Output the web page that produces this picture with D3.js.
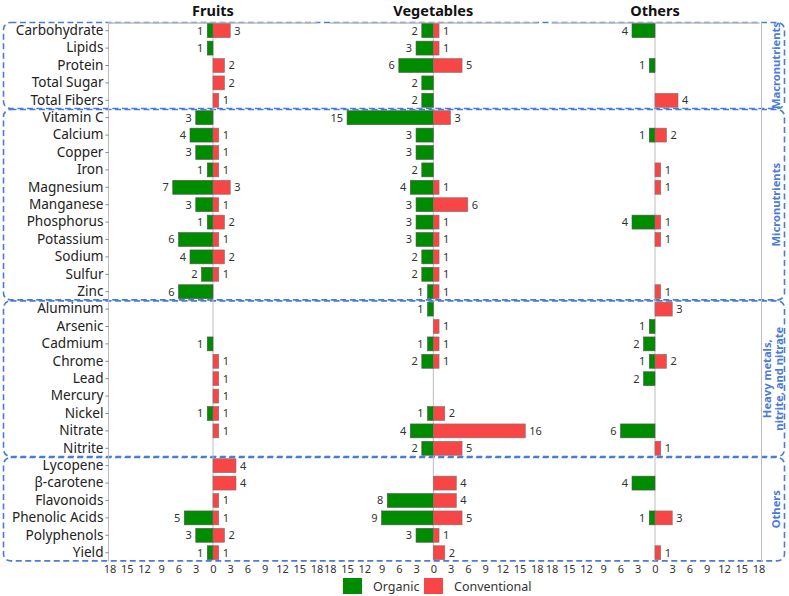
<!DOCTYPE html>
<html>
<head>
<meta charset="utf-8">
<script src="https://cdn.jsdelivr.net/npm/d3@7"></script>
<style>
  body { margin: 0; background: #fff; }
  svg { display: block; font-family: "Segoe UI", "Noto Sans", sans-serif; }
</style>
</head>
<body>
<svg id="chart" width="789" height="596"></svg>
<script>
// ---------- DATA ----------
const categories = [
  "Carbohydrate", "Lipids", "Protein", "Total Sugar", "Total Fibers",
  "Vitamin C", "Calcium", "Copper", "Iron", "Magnesium", "Manganese", "Phosphorus",
  "Potassium", "Sodium", "Sulfur", "Zinc",
  "Aluminum", "Arsenic", "Cadmium", "Chrome", "Lead", "Mercury", "Nickel", "Nitrate", "Nitrite",
  "Lycopene", "β-carotene", "Flavonoids", "Phenolic Acids", "Polyphenols", "Yield"
];
const panels = ["Fruits", "Vegetables", "Others"];

const fruitsOrganic      = [1,1,0,0,0, 3,4,3,1,7,3,1,6,4,2,6, 0,0,1,0,0,0,1,0,0, 0,0,0,5,3,1];
const fruitsConventional = [3,0,2,2,1, 0,1,1,1,3,1,2,1,2,1,0, 0,0,0,1,1,1,1,1,0, 4,4,1,1,2,1];
const vegOrganic         = [2,3,6,2,2, 15,3,3,2,4,3,3,3,2,2,1, 1,0,1,2,0,0,1,4,2, 0,0,8,9,3,0];
const vegConventional    = [1,1,5,0,0, 3,0,0,0,1,6,1,1,1,1,1, 0,1,1,1,0,0,2,16,5, 0,4,4,5,1,2];
const othersOrganic      = [4,0,1,0,0, 0,1,0,0,0,0,4,0,0,0,0, 0,1,2,1,2,0,0,6,0, 0,4,0,1,0,0];
const othersConventional = [0,0,0,0,4, 0,2,0,1,1,0,1,1,0,0,1, 3,0,0,2,0,0,0,0,1, 0,0,0,3,0,1];

const groups = [
  { name: ["Macronutrients"], first: "Carbohydrate", last: "Total Fibers" },
  { name: ["Micronutrients"], first: "Vitamin C", last: "Zinc" },
  { name: ["Heavy metals,", "nitrite, and nitrate"], first: "Aluminum", last: "Nitrite" },
  { name: ["Others"], first: "Lycopene", last: "Yield" }
];
const tickValues = [-18, -15, -12, -9, -6, -3, 0, 3, 6, 9, 12, 15, 18];
const seriesNames = ["Organic", "Conventional"];

const organicSeries = [fruitsOrganic, vegOrganic, othersOrganic];
const conventionalSeries = [fruitsConventional, vegConventional, othersConventional];

// ---------- LAYOUT ----------
const green = "#008c00", red = "#f84545";
const svg = d3.select("#chart");
const topY = 22, bottomY = 561.4;
const zeros = [213, 433.3, 655];
const half = 103.5;

const y = d3.scaleBand().domain(categories).range([topY, bottomY]).paddingInner(0.2).paddingOuter(0.1);
const yb = d3.scaleBand().domain(categories).range([topY, bottomY]);

const xs = zeros.map(z => d3.scaleLinear().domain([-18, 18]).range([z - half, z + half]));

// Group boxes
groups.forEach(g => {
  const y0 = yb(g.first), y1 = yb(g.last) + yb.bandwidth();
  svg.append("rect")
    .attr("x", 3.5).attr("y", y0 + 0.5)
    .attr("width", 781).attr("height", y1 - y0 - 1)
    .attr("rx", 7).attr("ry", 7)
    .attr("fill", "none").attr("stroke", "#4a7bd8")
    .attr("stroke-width", 1.6).attr("stroke-dasharray", "6,3.5");
  const cy = (y0 + y1) / 2;
  const lines = g.name;
  const t = svg.append("text")
    .attr("transform", `translate(${lines.length > 1 ? 767 : 776},${cy}) rotate(-90)`)
    .attr("text-anchor", "middle")
    .attr("fill", "#4a7bd8").attr("font-weight", "bold").attr("font-size", 11.2);
  lines.forEach((l, i) => t.append("tspan").attr("x", 0).attr("dy", i === 0 ? "0.35em" : "1.08em").text(l));
});

// Frame lines
const gray = "#bdbdbd";
svg.append("line").attr("x1", 108.5).attr("x2", 108.5).attr("y1", topY).attr("y2", bottomY).attr("stroke", gray);
svg.append("line").attr("x1", 761.5).attr("x2", 761.5).attr("y1", topY).attr("y2", bottomY).attr("stroke", gray);

// Left axis
const yAxis = svg.append("g").attr("transform", "translate(108.5,0)")
  .call(d3.axisLeft(yb).tickSize(3).tickPadding(2));
yAxis.select(".domain").remove();
yAxis.selectAll(".tick line").attr("stroke", "#888");
yAxis.selectAll(".tick text").attr("font-size", 13.6).attr("fill", "#222")
  .attr("font-family", "'Segoe UI', 'Noto Sans', sans-serif");

panels.forEach((p, i) => {
  const x = xs[i];
  const g = svg.append("g");
  g.append("text").attr("x", zeros[i]).attr("y", 16).attr("text-anchor", "middle")
    .attr("font-weight", "bold").attr("font-size", 14.5).attr("fill", "#111").text(p);
  g.append("line").attr("x1", x.range()[0] - (i === 0 ? 1 : 0)).attr("x2", x.range()[1] + 1)
    .attr("y1", topY + 1).attr("y2", topY + 1).attr("stroke", gray).attr("stroke-width", 1.5);
  g.append("line").attr("x1", x(0)).attr("x2", x(0)).attr("y1", topY).attr("y2", bottomY)
    .attr("stroke", gray);

  const org = organicSeries[i], conv = conventionalSeries[i];
  const rows = categories.map((c, k) => ({ c, o: org[k], v: conv[k] }));

  g.selectAll(".org").data(rows.filter(d => d.o > 0)).join("rect")
    .attr("x", d => x(-d.o)).attr("y", d => y(d.c))
    .attr("width", d => x(0) - x(-d.o)).attr("height", y.bandwidth())
    .attr("fill", green).attr("stroke", "#555").attr("stroke-width", 0.6);
  g.selectAll(".conv").data(rows.filter(d => d.v > 0)).join("rect")
    .attr("x", x(0)).attr("y", d => y(d.c))
    .attr("width", d => x(d.v) - x(0)).attr("height", y.bandwidth())
    .attr("fill", red).attr("stroke", "#777").attr("stroke-width", 0.6);

  g.selectAll(".ol").data(rows.filter(d => d.o > 0)).join("text")
    .attr("x", d => x(-d.o) - 4).attr("y", d => y(d.c) + y.bandwidth() / 2)
    .attr("dy", "0.36em").attr("text-anchor", "end")
    .attr("font-size", 11).attr("fill", "#333").text(d => d.o);
  g.selectAll(".cl").data(rows.filter(d => d.v > 0)).join("text")
    .attr("x", d => x(d.v) + 4).attr("y", d => y(d.c) + y.bandwidth() / 2)
    .attr("dy", "0.36em").attr("text-anchor", "start")
    .attr("font-size", 11).attr("fill", "#333").text(d => d.v);

  const ax = g.append("g").attr("transform", `translate(0,${bottomY + 1})`)
    .call(d3.axisBottom(x).tickValues(tickValues).tickSize(0).tickPadding(3).tickFormat(d => Math.abs(d)));
  ax.select(".domain").remove();
  ax.selectAll(".tick text").attr("font-size", 11).attr("fill", "#333")
    .attr("font-family", "'Segoe UI', 'Noto Sans', sans-serif");
});

// Legend
const legend = svg.append("g").attr("transform", "translate(343,578)");
const lx = [0, 81];
seriesNames.forEach((s, i) => {
  legend.append("rect").attr("x", lx[i]).attr("y", 0).attr("width", 19).attr("height", 16)
    .attr("fill", i === 0 ? green : red);
  legend.append("text").attr("x", lx[i] + 30).attr("y", 8).attr("dy", "0.36em")
    .attr("font-size", 12.5).attr("fill", "#333").text(s);
});
</script>
</body>
</html>
